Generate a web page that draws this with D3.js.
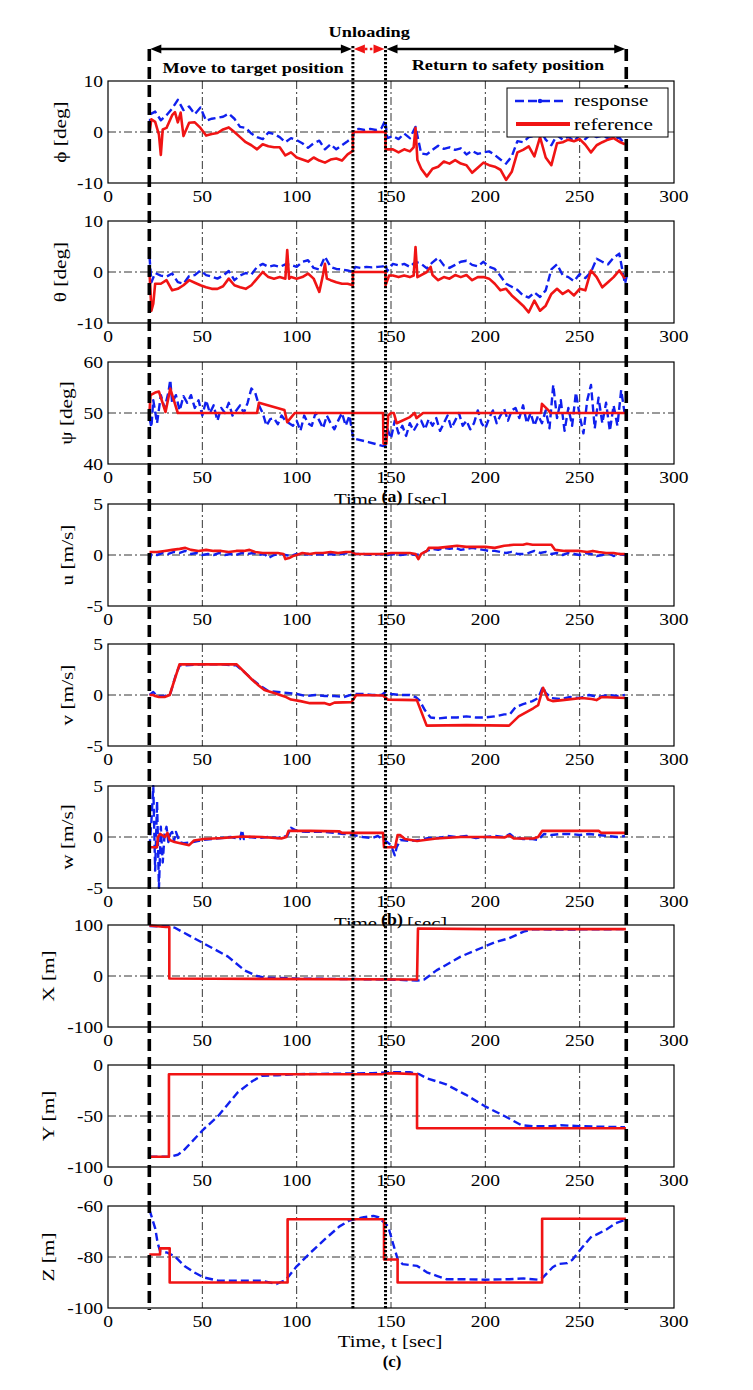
<!DOCTYPE html>
<html><head><meta charset="utf-8">
<script src="https://cdn.jsdelivr.net/npm/d3@7"></script>
<style>html,body{margin:0;padding:0;background:#fff;}svg{display:block;}</style>
</head><body>
<svg id="chart" width="753" height="1390"></svg>
<script>
// ---------------- DATA ----------------
const xTicks = [0, 50, 100, 150, 200, 250, 300];
const yLabels = ["ϕ [deg]", "θ [deg]", "ψ [deg]", "u [m/s]", "v [m/s]", "w [m/s]", "X [m]", "Y [m]", "Z [m]"];
const yDomains = [[-10, 10], [-10, 10], [40, 60], [-5, 5], [-5, 5], [-5, 5], [-100, 100], [-100, 0], [-100, -60]];
const yTicks = [[-10, 0, 10], [-10, 0, 10], [40, 50, 60], [-5, 0, 5], [-5, 0, 5], [-5, 0, 5], [-100, 0, 100], [-100, -50, 0], [-100, -80, -60]];
const phaseTimes = [21.9, 129.8, 147.1, 274.7]; // start, unloading start, unloading end, end
const phaseLabels = ["Move to target position", "Unloading", "Return to safety position"];
const subLabels = ["(a)", "(b)", "(c)"];
const xLabelParts = ["Time", "[sec]"];
const xLabelFull = "Time, t [sec]";
const legendLabels = ["response", "reference"];

const phiResp = [[22,1.0],[22.5,3.5],[25,4.0],[28,2.3],[31,3.3],[34,4.6],[37,6.3],[40,4.3],[43,5.0],[46,3.5],[49,4.8],[52,2.2],[55,2.6],[58,2.8],[61,3.0],[64,3.6],[67,2.6],[70,1.0],[73,0.8],[76,-0.3],[79,-1.0],[82,-1.4],[85,-0.1],[88,-0.4],[91,-1.0],[94,-2.0],[97,-1.2],[100,-1.6],[103,-2.2],[106,-3.1],[109,-2.2],[112,-1.7],[115,-3.4],[118,-2.4],[121,-3.4],[124,-2.6],[127,-1.8],[129.8,-1.0],[130.5,0.5],[133,0.6],[136,0.4],[139,0.6],[142,0.4],[145,0.8],[147,2.3],[148,-1.2],[151,-0.8],[154,-1.4],[157,-0.3],[160,-1.2],[163,1.0],[166,-4.2],[169,-4.4],[172,-3.5],[175,-2.7],[178,-3.3],[181,-3.0],[184,-3.5],[187,-3.2],[190,-4.4],[193,-3.7],[196,-4.3],[199,-4.0],[202,-3.8],[205,-4.5],[208,-5.4],[211,-6.2],[214,-4.8],[217,-1.8],[220,-2.0],[223,-1.0],[226,-0.8],[229,0.4],[232,-1.5],[235,-2.6],[238,-0.6],[241,-1.5],[244,-0.9],[247,-1.8],[250,-0.6],[253,-1.4],[256,-0.4],[259,-1.0],[262,-0.7],[265,-1.2],[268,-1.4],[271,-1.1],[274,-2.4]];
const phiRef = [[22,0.0],[23,2.5],[25,2.0],[27,-0.5],[28,-4.5],[29,0.5],[31,0.8],[34,3.3],[35.5,3.9],[37,1.9],[38.5,3.8],[40,-0.8],[43,1.8],[46,1.9],[49,0.8],[52,-0.7],[55,-0.4],[58,-0.2],[61,0.5],[64,0.9],[67,0.0],[70,-1.0],[73,-2.0],[76,-2.6],[79,-3.4],[82,-2.4],[85,-2.8],[88,-3.0],[91,-3.0],[94,-4.6],[97,-4.0],[100,-5.0],[103,-5.4],[106,-5.8],[109,-5.0],[112,-5.6],[115,-6.0],[118,-5.4],[121,-5.2],[124,-5.6],[127,-4.4],[129.8,-3.7],[129.8,0],[147.1,0],[147.1,-3.4],[151,-3.4],[154,-4.0],[157,-3.4],[160,-3.8],[162,-3.0],[163,0.8],[164,-5.5],[166,-7.2],[169,-8.7],[172,-7.2],[175,-6.8],[178,-5.8],[181,-6.2],[184,-5.5],[187,-6.2],[190,-6.5],[193,-8.0],[196,-7.0],[199,-6.0],[202,-6.5],[205,-6.8],[208,-7.4],[211,-9.4],[214,-7.8],[217,-4.0],[220,-3.5],[223,-2.8],[226,-4.8],[229,-1.0],[232,-5.0],[235,-6.5],[238,-2.2],[241,-2.0],[244,-1.5],[247,-1.8],[250,-1.4],[253,-2.5],[256,-4.0],[259,-2.6],[262,-2.0],[265,-1.5],[268,-1.2],[271,-1.9],[274,-2.4]];

const thetaResp = [[22,3.0],[23,-2.0],[25,-0.2],[28,-0.7],[31,-0.9],[34,-0.3],[37,-2.0],[40,-2.3],[43,-0.8],[46,-0.6],[49,0.3],[52,-0.6],[55,-0.9],[58,-1.3],[61,-0.7],[64,0.2],[67,-1.6],[70,-0.7],[73,-0.2],[76,-0.5],[79,1.0],[82,1.6],[85,1.0],[88,1.3],[91,1.0],[94,1.5],[97,1.4],[100,1.0],[103,2.0],[106,2.3],[109,0.8],[112,0.5],[115,3.0],[118,1.0],[121,0.6],[124,0.5],[127,0.3],[129.8,0.0],[131,1.0],[134,0.8],[137,1.0],[140,0.9],[143,1.0],[146,1.1],[147,1.6],[148,0.2],[151,1.6],[154,1.3],[157,1.6],[160,1.0],[163,2.0],[166,1.6],[169,0.7],[172,1.9],[175,2.8],[178,1.3],[181,0.8],[184,1.4],[187,2.0],[190,2.2],[193,1.4],[196,1.1],[199,2.0],[202,1.0],[205,0.6],[208,-0.8],[211,-2.3],[214,-2.9],[217,-3.5],[220,-4.6],[223,-5.0],[226,-4.0],[229,-4.9],[232,-3.6],[235,0.5],[238,1.5],[241,-0.6],[244,-1.0],[247,-1.8],[250,-0.4],[253,-1.2],[256,0.0],[259,2.6],[262,2.0],[265,1.5],[268,2.8],[271,3.6],[274,-2.3],[275,-0.8]];
const thetaRef = [[22,0.0],[23,-7.6],[24,-6.2],[25,-2.3],[28,-2.3],[31,-1.6],[34,-3.6],[37,-3.3],[40,-2.6],[43,-1.6],[46,-2.1],[49,-2.6],[52,-3.0],[55,-3.3],[58,-3.3],[61,-2.8],[64,-1.3],[67,-2.6],[70,-3.0],[73,-3.3],[76,-2.6],[79,-1.3],[82,0.0],[85,-1.0],[88,-1.3],[91,-1.0],[94,-1.3],[95,4.3],[96,-1.3],[97,-1.0],[100,-1.3],[103,-1.0],[106,-0.3],[109,-1.3],[112,-3.9],[114,-0.5],[115,1.6],[116,-1.3],[118,-1.6],[121,-2.0],[124,-2.3],[127,-2.3],[129.8,-2.6],[129.8,0],[147.1,0],[147.1,-2.6],[149,-0.7],[151,-0.7],[154,-1.0],[157,-0.7],[160,-1.0],[162,-0.7],[163,4.9],[164,-1.0],[166,-0.6],[169,0.0],[171,1.0],[172,-0.6],[175,-1.6],[178,-1.0],[181,-1.3],[184,-0.6],[187,-1.0],[190,-0.6],[193,-1.6],[196,-1.0],[199,-1.0],[202,-1.3],[205,-2.3],[208,-3.6],[211,-3.3],[214,-4.6],[217,-5.6],[220,-6.6],[223,-7.9],[226,-5.6],[229,-7.6],[232,-6.6],[235,-4.3],[238,-3.3],[241,-4.3],[244,-3.6],[247,-4.6],[250,-3.3],[253,-3.6],[256,0.3],[259,-1.0],[262,-3.0],[265,-2.0],[268,-1.0],[271,0.3],[274,-1.3]];

const psiResp = [[22,49],[23,47.2],[24,52.5],[26,48],[28,53.5],[30,51],[32,54],[33,56.5],[34,52],[36,53.5],[38,50.5],[40,53.3],[42,52],[44,53.5],[46,51],[48,52.5],[50,49.5],[52,52.5],[54,50],[56,51.5],[58,48.5],[60,51],[62,50],[64,52],[66,49.5],[68,50.5],[70,51.5],[72,50],[74,52],[76,54.8],[78,54],[80,51.5],[82,50],[84,47.5],[86,48.8],[88,49],[90,47.8],[92,49.5],[94,48.5],[96,48],[98,47.5],[100,48.5],[102,46.5],[104,49.5],[106,48],[108,47.5],[110,50],[112,48.5],[114,47],[116,49.5],[118,48],[120,46.8],[122,48.5],[124,50],[126,47.5],[128,49.5],[130,45],[138,44.3],[146,43.5],[147,43.5],[148,47],[150,45],[152,48.5],[154,46],[156,47.5],[158,45.5],[160,48],[162,46.5],[164,47.8],[166,48.5],[168,46.8],[170,48.8],[172,47.5],[174,49],[176,46.5],[178,48],[180,49.5],[182,47],[184,48.5],[186,50],[188,47.5],[190,48.5],[192,46.8],[194,48],[196,50.5],[198,48],[200,47],[202,49],[204,50.5],[206,48],[208,49.5],[210,50.8],[212,48.5],[214,50.5],[216,51],[218,49],[220,51.5],[222,48],[224,50],[226,47.5],[228,49.5],[230,48],[232,50.5],[234,47],[236,55.5],[238,49],[240,52.5],[242,46.5],[244,51],[246,47.5],[248,54],[250,49.5],[252,46],[254,52.5],[256,55.5],[258,47],[260,53],[262,48],[264,52],[266,46.5],[268,51.5],[270,47.5],[272,54.5],[274,49.5]];
const psiRef = [[22,50],[22.5,53.5],[25,54.0],[27,54.2],[30.5,50.2],[33,54.8],[37,50],[79,50],[80,52],[93.5,50.6],[95,48.2],[99,50],[145.8,50],[146,44],[147.5,44],[148.5,49.5],[150,50],[151.5,50],[153,48],[160,49.2],[162.5,50],[163.5,49],[167,50],[229.5,50],[230,51.8],[233.5,50.5],[234.5,50],[274,50]];

const uResp = [[22,-0.6],[23,0.1],[26,0.0],[29,0.2],[32,0.1],[35,0.3],[38,0.2],[41,0.4],[44,0.1],[47,0.2],[50,0.0],[53,0.1],[56,0.0],[59,0.2],[62,0.0],[65,0.1],[68,0.0],[71,0.2],[74,0.1],[77,0.2],[80,0.0],[83,0.1],[85,-0.3],[88,0.0],[91,0.1],[94,0.0],[97,-0.1],[100,0.1],[103,0.0],[106,0.1],[109,0.0],[112,0.1],[115,0.0],[118,0.1],[121,0.0],[124,0.1],[127,0.2],[130,0.1],[135,0.1],[140,0.0],[145,0.1],[148,0.0],[151,0.1],[155,0.0],[160,0.1],[163,0.0],[166,0.1],[169,0.4],[172,0.6],[175,0.5],[178,0.7],[181,0.6],[184,0.7],[187,0.5],[190,0.6],[193,0.7],[196,0.6],[199,0.5],[202,0.4],[205,0.4],[208,0.3],[211,0.2],[214,0.3],[217,0.1],[220,0.1],[223,0.2],[226,0.4],[229,0.2],[232,0.3],[235,0.1],[238,0.2],[241,0.0],[244,0.2],[247,0.1],[250,0.0],[253,0.2],[256,0.1],[259,-0.1],[262,0.0],[265,0.2],[268,-0.1],[271,0.1],[274,0.0]];
const uRef = [[22,0.3],[26,0.3],[30,0.4],[34,0.5],[38,0.6],[41,0.7],[44,0.5],[48,0.4],[52,0.5],[56,0.4],[60,0.4],[64,0.3],[68,0.4],[72,0.4],[75,0.5],[78,0.3],[82,0.2],[86,0.2],[90,0.2],[93,0.1],[94,-0.4],[96,-0.3],[98,-0.1],[100,0.0],[103,0.2],[107,0.1],[110,0.2],[114,0.2],[118,0.3],[122,0.2],[126,0.3],[129,0.3],[131,0.1],[140,0.1],[147,0.1],[150,0.2],[155,0.2],[160,0.2],[163,0.1],[164.5,-0.4],[166,0.1],[169,0.4],[170,0.7],[175,0.7],[180,0.8],[185,0.9],[190,0.8],[195,0.8],[200,0.8],[205,0.7],[210,0.9],[215,1.0],[220,1.0],[222,1.1],[225,1.0],[230,1.0],[235,1.0],[237,0.5],[242,0.4],[246,0.4],[250,0.4],[254,0.3],[257,0.4],[260,0.3],[264,0.2],[268,0.2],[271,0.1],[274,0.1]];

const vResp = [[22,0],[24,0.3],[26,-0.1],[30,-0.1],[33,0.1],[36,2.0],[38,2.9],[40,2.9],[50,3.0],[60,3.0],[68,2.9],[72,2.3],[76,1.6],[80,1.0],[85,0.4],[90,0.3],[95,0.2],[100,0.1],[105,-0.1],[110,0.0],[115,-0.1],[120,-0.1],[125,-0.2],[130,0.1],[135,0.1],[140,0.0],[145,0.0],[147,0.3],[150,0.1],[155,0.0],[160,0.0],[163,-0.2],[165,-0.5],[168,-1.5],[171,-2.2],[175,-2.3],[180,-2.2],[185,-2.2],[190,-2.1],[195,-2.2],[200,-2.2],[205,-2.1],[210,-1.9],[213,-1.9],[216,-1.2],[220,-0.9],[225,-0.6],[228,-0.3],[230.5,0.8],[232,0.2],[235,-0.3],[240,-0.4],[245,-0.2],[250,-0.3],[255,0.0],[260,-0.2],[265,0.0],[270,-0.1],[274,0.0]];
const vRef = [[22,0],[24,0],[25,-0.1],[27,-0.2],[30,-0.2],[32.7,0],[37.9,3.0],[68.2,3.0],[72,2.3],[76.4,1.5],[80,0.9],[82.9,0.5],[88,0.2],[94.4,-0.2],[97,-0.45],[102,-0.6],[107,-0.8],[115,-0.8],[117.5,-0.95],[120,-0.75],[129,-0.7],[131.6,0],[145.7,-0.05],[148.3,-0.45],[163.7,-0.5],[168.9,-3.0],[190,-2.95],[212.6,-3.0],[217.7,-2.1],[225.4,-1.3],[228,-1.0],[230.6,0.7],[233.2,-0.45],[235.7,-0.6],[240.9,-0.5],[251.2,-0.3],[256.3,-0.4],[258.9,-0.5],[261.5,-0.2],[274.3,-0.3]];

const wResp = [[22,-1],[23,1.5],[24,5],[25,-3.3],[26,3.5],[27,-5],[28,1],[29,-2.5],[30,0.3],[31,1],[32,-0.5],[33,0.3],[34,0.5],[35,-0.4],[36,0.5],[38,-0.5],[40,-0.6],[45,-0.5],[50,-0.3],[55,-0.2],[60,-0.1],[65,0.0],[70,-0.2],[71,0.7],[72,-0.2],[75,0.0],[80,-0.1],[85,0.0],[90,-0.1],[95,0.1],[97,0.9],[100,0.6],[105,0.5],[110,0.5],[115,0.5],[120,0.4],[125,0.3],[130,0.2],[135,0.0],[140,-0.1],[143,0.1],[146,-0.3],[148,-0.5],[150,-0.8],[152,-1.8],[153,-1.0],[155,-0.3],[160,-0.4],[165,-0.3],[170,-0.1],[175,-0.1],[180,0.1],[185,0.0],[190,0.1],[195,-0.1],[200,0.0],[205,0.1],[210,0.0],[213,0.3],[215,0.0],[220,-0.2],[225,-0.2],[228,-0.3],[231,0.3],[235,0.2],[240,0.3],[245,0.3],[250,0.2],[255,0.3],[260,0.2],[265,0.1],[270,0.0],[274,0.1]];
const wRef = [[22,-1.0],[26,-1.0],[26.5,0.0],[27.6,0.3],[30.2,0.0],[31.5,0.4],[32.7,-0.3],[35.3,-0.5],[43,-0.8],[45.6,-0.35],[50.7,-0.2],[61,-0.1],[71.3,0.05],[81.6,0.0],[91.9,-0.15],[94.5,0.0],[95.7,0.6],[107.3,0.6],[122.7,0.55],[124,0.4],[145.8,0.4],[146.3,-1.0],[152.2,-1.0],[153.5,0.2],[154.8,0.2],[157.4,-0.2],[163.8,-0.4],[174.1,-0.15],[187,0.0],[199.8,0.0],[210.1,-0.05],[212.6,0.15],[215.2,-0.15],[225.5,-0.15],[228,0.0],[230.1,0.6],[260.2,0.6],[261.5,0.4],[274.3,0.4]];

const XResp = [[22,98],[33,97],[35.2,95],[50.7,64],[63.6,38],[72.4,11],[78.9,0],[82.8,-3],[100,-5],[130,-6],[150,-7],[163.8,-9],[167.6,-7],[174.1,11],[186.9,38],[199.8,58],[204.9,66],[212.6,74],[220.3,87],[225.4,92],[238.2,91],[274,92]];
const XRef = [[21.9,99],[30.6,96],[32.5,96],[32.5,-5],[163.8,-7],[164.3,93],[200,92],[274.5,92]];
const YResp = [[22,-90],[33,-90],[37,-88],[40,-84],[50.7,-63],[58.4,-50],[68.7,-27],[76.4,-16],[81.6,-10.5],[90,-10],[100,-9],[120,-8.5],[140,-8],[150,-7],[160,-7],[165,-9],[168.9,-13],[179.2,-19],[189.5,-29],[199.8,-40.5],[210.1,-50],[219.1,-59],[225,-60],[235,-60],[240,-59],[250,-60],[274,-61]];
const YRef = [[21.9,-90],[32.3,-90],[32.3,-9],[145,-9],[150,-8],[163.8,-9],[163.8,-62],[274.5,-62]];
const ZResp = [[22,-61.5],[25.1,-69],[26.3,-74.5],[27.6,-77.7],[31.4,-78.3],[35.3,-79.7],[40.5,-83.5],[45.6,-86],[50.7,-88],[58.4,-89.3],[71.3,-89.3],[81.6,-89.3],[89.3,-90.6],[94.4,-88.9],[99.6,-84],[107.3,-78.3],[115,-73],[122.7,-68],[127.9,-65.7],[135.6,-64.4],[140.7,-63.9],[143.3,-64.4],[148.5,-68],[151,-74.5],[153.6,-81],[156.2,-82.8],[163.9,-83.5],[169,-86],[174.2,-87.4],[179.3,-88.7],[187,-88.7],[199.8,-88.9],[212.6,-88.7],[220.3,-88.4],[228,-88.9],[230.6,-88],[235.7,-84],[238.3,-82.8],[243.4,-82.4],[246,-81.2],[251.2,-76.4],[256.3,-71.9],[258.9,-71.2],[264,-69.3],[269.2,-66.7],[274.3,-65.4]];
const ZRef = [[21.9,-79],[27.6,-79],[27.6,-76.6],[32.7,-76.6],[32.7,-90],[95.2,-90],[95.2,-65.2],[146.3,-65.2],[146.3,-81],[153.5,-81],[153.5,-90],[230.1,-90],[230.1,-65],[274.5,-65]];

const respSeries = [phiResp, thetaResp, psiResp, uResp, vResp, wResp, XResp, YResp, ZResp];
const refSeries  = [phiRef, thetaRef, psiRef, uRef, vRef, wRef, XRef, YRef, ZRef];

// ---------------- LAYOUT / STYLE ----------------
const svg = d3.select("#chart");
const FONT = "'Liberation Serif','Times New Roman',serif";
const SX = 1.22;
const BLUE = "#1020ee", RED = "#f01414";
const X0 = 108, X1 = 674, H = 102;
const tops = [81, 221, 362, 504, 644, 786, 925, 1065, 1206];
const labelX = [60, 60, 66, 67, 67, 67, 48, 48, 48];
const x = d3.scaleLinear().domain([0, 300]).range([X0, X1]);

function txt(g, tx, ty, s, o = {}) {
  const t = g.append("text")
    .attr("transform", `translate(${tx},${ty})${o.rot ? " rotate(" + o.rot + ")" : ""} scale(${o.sx || SX},1)`)
    .attr("font-family", FONT)
    .attr("font-size", o.size || 16)
    .attr("font-weight", o.bold ? "bold" : "normal")
    .attr("text-anchor", o.anchor || "middle")
    .attr("fill", o.fill || "#000")
    .text(s);
  if (o.base) t.attr("dominant-baseline", o.base);
  return t;
}

const defs = svg.append("defs");
const xlabG = svg.append("g");   // x-axis titles, drawn first so the next panel covers their lower part
const panelsG = svg.append("g");

[2, 5].forEach(i => {
  const yy = tops[i] + H + 41;
  txt(xlabG, 377, yy, xLabelParts[0], { size: 17, anchor: "end" });
  txt(xlabG, 407, yy, xLabelParts[1], { size: 17, anchor: "start" });
});
txt(xlabG, 390, tops[8] + H + 39, xLabelFull, { size: 17 });

tops.forEach((top, i) => {
  const g = panelsG.append("g");
  const y = d3.scaleLinear().domain(yDomains[i]).range([top + H, top]);
  g.append("rect").attr("x", X0).attr("y", top).attr("width", X1 - X0).attr("height", H).attr("fill", "#fff");
  g.selectAll(".vg").data(xTicks.slice(1, -1)).enter().append("line")
    .attr("x1", d => x(d)).attr("x2", d => x(d)).attr("y1", top).attr("y2", top + H)
    .attr("stroke", "#000").attr("stroke-width", 0.8).attr("stroke-dasharray", "8,3,2,3");
  g.selectAll(".hg").data(yTicks[i].slice(1, -1)).enter().append("line")
    .attr("x1", X0).attr("x2", X1).attr("y1", d => y(d)).attr("y2", d => y(d))
    .attr("stroke", "#000").attr("stroke-width", 0.8).attr("stroke-dasharray", "8,3,2,3");
  defs.append("clipPath").attr("id", "clip" + i).append("rect")
    .attr("x", X0).attr("y", top - 1).attr("width", X1 - X0).attr("height", H + 2);
  const line = d3.line().x(d => x(d[0])).y(d => y(d[1]));
  const dg = g.append("g").attr("clip-path", `url(#clip${i})`);
  dg.append("path").attr("d", line(respSeries[i])).attr("fill", "none")
    .attr("stroke", BLUE).attr("stroke-width", 2.4).attr("stroke-dasharray", "8,4")
    .attr("stroke-linejoin", "round");
  dg.append("path").attr("d", line(refSeries[i])).attr("fill", "none")
    .attr("stroke", RED).attr("stroke-width", 2.6).attr("stroke-linejoin", "round");
  g.append("rect").attr("x", X0).attr("y", top).attr("width", X1 - X0).attr("height", H)
    .attr("fill", "none").attr("stroke", "#000").attr("stroke-width", 1.2);
  xTicks.forEach(v => txt(g, x(v), top + H + 19, String(v)));
  yTicks[i].forEach(v => txt(g, 103, y(v) + 5.5, String(v), { anchor: "end" }));
  txt(g, labelX[i], top + H / 2, yLabels[i], { rot: -90, size: 17, base: "central", sx: 1.25 });
});

// ---------------- PHASE MARKERS ----------------
const overlay = svg.append("g");
const yLineTop = 49, yLineBot = 1310;
[phaseTimes[0], phaseTimes[3]].forEach(t => {
  overlay.append("line").attr("x1", x(t)).attr("x2", x(t)).attr("y1", yLineTop).attr("y2", yLineBot)
    .attr("stroke", "#000").attr("stroke-width", 3.6).attr("stroke-dasharray", "12,6");
});
[phaseTimes[1], phaseTimes[2]].forEach(t => {
  overlay.append("line").attr("x1", x(t)).attr("x2", x(t)).attr("y1", 46).attr("y2", yLineBot)
    .attr("stroke", "#000").attr("stroke-width", 3).attr("stroke-dasharray", "2.2,1.8");
});

function arrowHead(g, xTip, yy, dir, color) {
  const L = 11, W = 4.5;
  g.append("path").attr("d", `M${xTip},${yy} L${xTip - dir * L},${yy - W} L${xTip - dir * L},${yy + W} Z`).attr("fill", color);
}
const ay = 49;
const segs = [[phaseTimes[0], phaseTimes[1], "#000", false], [phaseTimes[1], phaseTimes[2], RED, true], [phaseTimes[2], phaseTimes[3], "#000", false]];
segs.forEach(([a, b, c, dotted]) => {
  const xa = x(a) + 1, xb = x(b) - 1;
  overlay.append("line").attr("x1", xa + 6).attr("x2", xb - 6).attr("y1", ay).attr("y2", ay)
    .attr("stroke", c).attr("stroke-width", 2.6).attr("stroke-dasharray", dotted ? "2.5,2.5" : null);
  arrowHead(overlay, xa, ay, -1, c);
  arrowHead(overlay, xb, ay, 1, c);
});
txt(overlay, (x(phaseTimes[0]) + x(phaseTimes[1])) / 2 + 2, 73, phaseLabels[0], { bold: true, size: 15 });
txt(overlay, (x(phaseTimes[1]) + x(phaseTimes[2])) / 2, 37, phaseLabels[1], { bold: true, size: 15 });
txt(overlay, (x(phaseTimes[2]) + x(phaseTimes[3])) / 2 + 2, 70, phaseLabels[2], { bold: true, size: 15 });

// sub-figure labels (a), (b), (c)
[[tops[2] + H + 38, 17], [tops[5] + H + 37, 17], [tops[8] + H + 59, 16]].forEach(([yy, fs], k) => {
  txt(overlay, 392, yy, subLabels[k], { bold: true, size: fs, sx: 1.05 });
});

// ---------------- LEGEND ----------------
const lg = svg.append("g");
lg.append("rect").attr("x", 507).attr("y", 88).attr("width", 161).attr("height", 49)
  .attr("fill", "#fff").attr("stroke", "#000").attr("stroke-width", 1);
lg.append("line").attr("x1", 515).attr("x2", 566).attr("y1", 101).attr("y2", 101)
  .attr("stroke", BLUE).attr("stroke-width", 2.6).attr("stroke-dasharray", "9,4");
lg.append("circle").attr("cx", 540).attr("cy", 101).attr("r", 2.2).attr("fill", BLUE);
lg.append("line").attr("x1", 516).attr("x2", 570).attr("y1", 124).attr("y2", 124)
  .attr("stroke", RED).attr("stroke-width", 4);
txt(lg, 574, 106, legendLabels[0], { anchor: "start", size: 17, sx: 1.25 });
txt(lg, 574, 130, legendLabels[1], { anchor: "start", size: 17, sx: 1.25 });
</script>
</body></html>
